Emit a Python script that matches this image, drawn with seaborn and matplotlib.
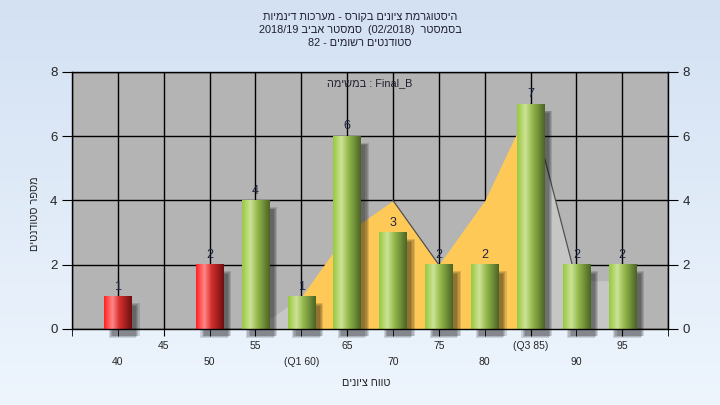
import numpy as np
import pandas as pd
import matplotlib
matplotlib.use("Agg")
import matplotlib.pyplot as plt
from matplotlib.colors import LinearSegmentedColormap
from matplotlib.patches import Rectangle
import seaborn as sns

# data
grades = [40, 45, 50, 55, 60, 65, 70, 75, 80, 85, 90, 95]
tick_labels = ["40", "45", "50", "55", "(Q1 60)", "65", "70", "75", "80", "(Q3 85)", "90", "95"]
counts = [1, 0, 2, 4, 1, 6, 3, 2, 2, 7, 2, 2]
curve = [0, 0, 0, 0, 1, 3, 4, 2, 4, 7, 1.5, 1.5]
q1_idx, q3_idx = 4, 9
pass_grade = 55

title_lines = [
    "היסטוגרמת ציונים בקורס - מערכות דינמיות",
    "בסמסטר  (02/2018)  סמסטר אביב 2018/19",
    "סטודנטים רשומים - 82",
]
task_label = "במשימה"
task_name = "Final_B"
x_title = "טווח ציונים"
y_title = "מספר סטודנטים"


def rtl(s):
    # crude visual ordering for Hebrew text (matplotlib has no bidi)
    words = []
    for w in s.split(" ")[::-1]:
        if any("\u0590" <= c <= "\u05ff" for c in w):
            w = w[::-1]
        words.append(w)
    return " ".join(words)


sns.set_style("white")
plt.rcParams["font.family"] = ["Liberation Sans", "DejaVu Sans"]

fig = plt.figure(figsize=(7.2, 4.05), dpi=100)

# light blue gradient background
bg = fig.add_axes([0, 0, 1, 1], zorder=-1)
bg_cmap = LinearSegmentedColormap.from_list("bg", ["#d3e1f3", "#eef5fd"])
bg.imshow(np.linspace(0, 1, 256).reshape(-1, 1), cmap=bg_cmap, aspect="auto",
          extent=(0, 1, 0, 1))
bg.axis("off")

ax = fig.add_axes([0.1, 0.1877, 0.828, 0.6346])
ax.set_facecolor("#b4b4b4")

df = pd.DataFrame({"label": tick_labels, "count": counts})
sns.barplot(data=df, x="label", y="count", order=tick_labels, width=0.6,
            color="#9ccc44", ax=ax, zorder=3)

x = np.arange(len(grades))
cv = np.array(curve, dtype=float)
ax.fill_between(x[:q1_idx + 1], cv[:q1_idx + 1], color="#c6c6c6", lw=0, zorder=1)
ax.fill_between(x[q3_idx:], cv[q3_idx:], color="#c6c6c6", lw=0, zorder=1)
ax.fill_between(x[q1_idx:q3_idx + 1], cv[q1_idx:q3_idx + 1], color="#ffc958", lw=0, zorder=1.2)
for i in range(len(cv) - 1):
    if cv[i + 1] < cv[i]:
        ax.plot(x[i:i + 2], cv[i:i + 2], color="#505050", lw=0.9, zorder=1.3)

green = LinearSegmentedColormap.from_list(
    "g", [(0, "#98c840"), (0.3, "#cde396"), (0.55, "#95b94c"), (1, "#4b6525")])
red = LinearSegmentedColormap.from_list(
    "r", [(0, "#ff2222"), (0.3, "#ff8888"), (0.55, "#d83030"), (1, "#6e1010")])
grad = np.linspace(0, 1, 64).reshape(1, -1)

for i, p in enumerate(ax.patches):
    h = p.get_height()
    p.set_facecolor("none")
    p.set_edgecolor("none")
    p.set_linewidth(0)
    if h <= 0:
        p.set_visible(False)
        continue
    x0, w = p.get_x(), p.get_width()
    # soft drop shadow
    for k in range(4):
        d = 0.025 * k
        ax.add_patch(Rectangle((x0 + 0.1 + d, -0.28 + d), w, h, color="black",
                               alpha=0.13, lw=0, zorder=2.5, clip_on=False))
    cmap = red if grades[i] < pass_grade else green
    ax.imshow(grad, cmap=cmap, aspect="auto", extent=(x0, x0 + w, 0, h), zorder=3.5)
    ax.text(x0 + w / 2, h + 0.12, str(int(round(h))), ha="center", va="bottom",
            fontsize=9, color="#1c2440", zorder=5)

ax.set_xlim(-1, 12)
ax.set_ylim(0, 8)
ax.set_yticks([0, 2, 4, 6, 8])

odd = list(range(1, 12, 2))
even = list(range(0, 12, 2))
ax.set_xticks(odd)
ax.set_xticklabels([tick_labels[i] for i in odd], fontsize=7.5)
ax.set_xticks([-1] + even + [12], minor=True)
ax.set_xticklabels([""] + [tick_labels[i] for i in even] + [""], minor=True, fontsize=7.5)
ax.tick_params(axis="x", which="major", length=5, pad=4, color="black", bottom=True)
ax.tick_params(axis="x", which="minor", length=5, pad=15, color="black", bottom=True)
ax.tick_params(axis="y", length=7, labelsize=9.5, left=True, right=True, labelright=True,
               color="black")

ax.set_axisbelow(True)
ax.grid(True, axis="x", which="both", color="black", lw=1)
ax.grid(True, axis="y", which="major", color="black", lw=1)
for s in ax.spines.values():
    s.set_color("black")
    s.set_linewidth(1)
    s.set_zorder(6)

ax.set_xlabel(rtl(x_title), fontsize=7.8)
ax.xaxis.set_label_coords(0.493, -0.19)
ax.set_ylabel(rtl(y_title), fontsize=7.8)
ax.yaxis.set_label_coords(-0.053, 0.45)

ax.text(0.5, 0.955, rtl(task_label) + " : " + task_name, transform=ax.transAxes,
        ha="center", va="center", fontsize=7.8, color="#202030", zorder=6)

for j, line in enumerate(title_lines):
    fig.text(0.5, 1 - (17 + 13 * j) / 405, rtl(line), ha="center", va="center",
             fontsize=7.8, color="#202030")

fig.savefig("out.png", dpi=100)
